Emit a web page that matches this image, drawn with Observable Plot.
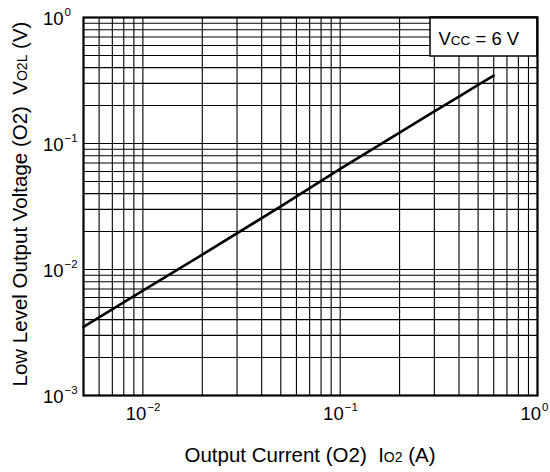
<!DOCTYPE html>
<html><head><meta charset="utf-8">
<script src="https://cdn.jsdelivr.net/npm/d3@7"></script>
<script src="https://cdn.jsdelivr.net/npm/@observablehq/plot@0.6"></script>
<style>
body{margin:0;background:#fff}
svg{font-family:"Liberation Sans",Arial,sans-serif}
</style>
</head><body><div id="chart"></div>
<script>
// Data (Output current Io2 in A, low-level output voltage VO2L in V)
const current = [0.005, 0.01, 0.02, 0.05, 0.1, 0.2, 0.3, 0.4, 0.5, 0.6];
const voltage = [0.0035, 0.0068, 0.0131, 0.0317, 0.063, 0.122, 0.180, 0.236, 0.292, 0.345];

const xMajorTicks = [0.01, 0.1, 1];
const xMajorExp = ["\u22122", "\u22121", "0"];
const yMajorTicks = [0.001, 0.01, 0.1, 1];
const yMajorExp = ["\u22123", "\u22122", "\u22121", "0"];

const xGrid = [0.006,0.007,0.008,0.009,0.01,0.02,0.03,0.04,0.05,0.06,0.07,0.08,0.09,0.1,0.2,0.3,0.4,0.5,0.6,0.7,0.8,0.9,1];
const yGrid = [0.001,0.002,0.003,0.004,0.005,0.006,0.007,0.008,0.009,0.01,0.02,0.03,0.04,0.05,0.06,0.07,0.08,0.09,0.1,0.2,0.3,0.4,0.5,0.6,0.7,0.8,0.9,1];

const xTitleParts = ["Output Current (O2)  I", "O2", " (A)"];
const yTitleParts = ["Low Level Output Voltage (O2)  V", "O2L", " (V)"];
const legendParts = ["V", "CC", " = 6 V"];

const data = current.map((c, i) => ({current: c, voltage: voltage[i]}));

const W = 550, H = 472, mL = 83, mR = 13, mT = 17, mB = 77;

const plot = Plot.plot({
  width: W, height: H,
  marginLeft: mL, marginRight: mR, marginTop: mT, marginBottom: mB,
  x: {type: "log", domain: [0.005, 1], axis: null},
  y: {type: "log", domain: [0.001, 1], axis: null},
  style: {fontFamily: '"Liberation Sans", Arial, sans-serif', background: "white", color: "black"},
  marks: [
    Plot.ruleX(xGrid, {x: d => d, stroke: "#000", strokeWidth: 1.1}),
    Plot.ruleY(yGrid, {y: d => d, stroke: "#000", strokeWidth: 1.1}),
    Plot.line(data, {x: "current", y: "voltage", stroke: "#000", strokeWidth: 2.6}),
    Plot.frame({stroke: "#000", strokeWidth: 2.2}),
    Plot.text(yMajorTicks, {y: d => d, text: () => "10", frameAnchor: "left", textAnchor: "end", dx: -20, dy: 2, fontSize: 18.5, fill: "#000"}),
    Plot.text(yMajorTicks, {y: d => d, text: (d, i) => yMajorExp[i], frameAnchor: "left", textAnchor: "start", dx: -19, dy: -5, fontSize: 11.5, fill: "#000"}),
    Plot.text(xMajorTicks, {x: d => d, text: () => "10", frameAnchor: "bottom", textAnchor: "end", lineAnchor: "top", dx: 3.5, dy: 11, fontSize: 18.5, fill: "#000"}),
    Plot.text(xMajorTicks, {x: d => d, text: (d, i) => xMajorExp[i], frameAnchor: "bottom", textAnchor: "start", lineAnchor: "top", dx: 4.5, dy: 7.5, fontSize: 11.5, fill: "#000"})
  ]
});

document.getElementById("chart").appendChild(plot);

const svg = d3.select(plot);
// legend box in the top-right corner of the frame, drawn under the frame border
const frameEl = plot.querySelector('[aria-label="frame"]');
const boxRight = W - mR, boxLeft = boxRight - 107, boxTop = mT, boxBottom = mT + 39;
const box = document.createElementNS("http://www.w3.org/2000/svg", "rect");
box.setAttribute("x", boxLeft); box.setAttribute("y", boxTop);
box.setAttribute("width", boxRight - boxLeft); box.setAttribute("height", boxBottom - boxTop);
box.setAttribute("fill", "white"); box.setAttribute("stroke", "black"); box.setAttribute("stroke-width", 1.5);
frameEl.parentNode.insertBefore(box, frameEl);

function partsText(sel, parts, big, small) {
  sel.append("tspan").attr("font-size", big).text(parts[0]);
  sel.append("tspan").attr("font-size", small).text(parts[1]);
  sel.append("tspan").attr("font-size", big).text(parts[2]);
}

partsText(svg.append("text").attr("text-anchor", "start").attr("x", boxLeft + 8.5).attr("y", boxBottom - 11).attr("fill", "#000"), legendParts, 18.5, 13.5);

partsText(svg.append("text").attr("text-anchor", "middle").attr("fill", "#000")
  .attr("transform", `translate(310,${H - 10})`), xTitleParts, 20.5, 14);

partsText(svg.append("text").attr("text-anchor", "middle").attr("fill", "#000")
  .attr("transform", `translate(27,204) rotate(-90)`), yTitleParts, 20.5, 14);
</script>
</body></html>
